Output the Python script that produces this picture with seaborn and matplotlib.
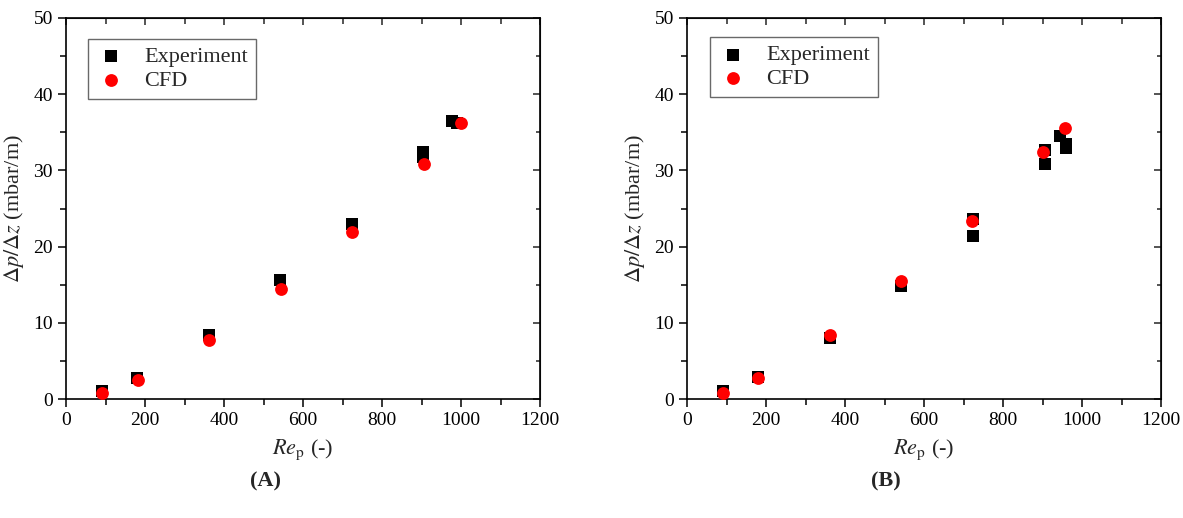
import matplotlib
matplotlib.use("Agg")
import matplotlib.pyplot as plt
import seaborn as sns
import pandas as pd
from matplotlib.ticker import MultipleLocator

# Datos panel A
exp_a_re = [90, 180, 362, 543, 723, 905, 905, 978, 990]
exp_a_dp = [1.0, 2.8, 8.4, 15.6, 23.0, 32.4, 31.8, 36.5, 36.2]
cfd_a_re = [91, 182, 363, 544, 724, 906, 1000]
cfd_a_dp = [0.8, 2.5, 7.7, 14.5, 21.9, 30.8, 36.2]

# Datos panel B
exp_b_re = [90, 180, 362, 543, 724, 724, 906, 906, 945, 960, 960]
exp_b_dp = [1.1, 2.9, 8.0, 14.8, 23.6, 21.4, 32.7, 30.8, 34.5, 33.5, 32.9]
cfd_b_re = [90, 181, 363, 542, 721, 901, 957]
cfd_b_dp = [0.8, 2.8, 8.4, 15.5, 23.3, 32.4, 35.6]

paneles = ["(A)", "(B)"]

sns.set_style("ticks")
plt.rcParams["font.family"] = ["Liberation Serif", "DejaVu Serif"]
plt.rcParams["mathtext.fontset"] = "stix"

W, H = 1183, 518
fig = plt.figure(figsize=(W / 100, H / 100), dpi=100)
ejes = [
    fig.add_axes([66 / W, 1 - 399 / H, 474 / W, 381 / H]),
    fig.add_axes([687 / W, 1 - 399 / H, 474 / W, 381 / H]),
]
datos = [
    (exp_a_re, exp_a_dp, cfd_a_re, cfd_a_dp),
    (exp_b_re, exp_b_dp, cfd_b_re, cfd_b_dp),
]
leg_pos = [(0.046, 0.945), (0.048, 0.95)]

for ax, (er, ed, cr, cd), etiqueta, lp in zip(ejes, datos, paneles, leg_pos):
    df_exp = pd.DataFrame({"re": er, "dp": ed})
    df_cfd = pd.DataFrame({"re": cr, "dp": cd})
    sns.scatterplot(data=df_exp, x="re", y="dp", marker="s", s=70, color="black",
                    edgecolor="black", linewidth=0, label="Experiment", ax=ax, zorder=3)
    sns.scatterplot(data=df_cfd, x="re", y="dp", marker="o", s=85, color="red",
                    edgecolor="red", linewidth=0, label="CFD", ax=ax, zorder=4)

    ax.set_xlim(0, 1200)
    ax.set_ylim(0, 50)
    ax.xaxis.set_major_locator(MultipleLocator(200))
    ax.xaxis.set_minor_locator(MultipleLocator(100))
    ax.yaxis.set_major_locator(MultipleLocator(10))
    ax.yaxis.set_minor_locator(MultipleLocator(5))
    ax.tick_params(which="both", direction="out", top=False, right=False,
                   labelsize=14, width=1.1, colors="black")
    ax.tick_params(which="major", length=6)
    ax.tick_params(which="minor", length=4)
    for sp in ax.spines.values():
        sp.set_visible(True)
        sp.set_linewidth(1.2)
        sp.set_color("black")

    # ticks espejo hacia dentro
    sec_x = ax.secondary_xaxis("top")
    sec_x.xaxis.set_major_locator(MultipleLocator(200))
    sec_x.xaxis.set_minor_locator(MultipleLocator(100))
    sec_x.tick_params(which="both", direction="in", labeltop=False, length=5, width=1.1)
    sec_x.tick_params(which="minor", length=4)
    sec_y = ax.secondary_yaxis("right")
    sec_y.yaxis.set_major_locator(MultipleLocator(10))
    sec_y.yaxis.set_minor_locator(MultipleLocator(5))
    sec_y.tick_params(which="both", direction="in", labelright=False, length=5, width=1.1)
    sec_y.tick_params(which="minor", length=3)

    ax.set_xlabel(r"$Re_{\mathrm{p}}$ (-)", fontsize=16, labelpad=6)
    ax.set_ylabel(r"$\Delta p/\Delta z$ (mbar/m)", fontsize=16, labelpad=5)

    leg = ax.legend(loc="upper left", bbox_to_anchor=lp, borderaxespad=0,
                    fancybox=False, edgecolor="#444444", fontsize=16,
                    handletextpad=0.8, borderpad=0.35, labelspacing=0.15,
                    handlelength=1.4, markerscale=1.0)
    leg.get_frame().set_linewidth(1.0)

    ax.text(0.42, -0.19, etiqueta, transform=ax.transAxes, ha="center", va="top",
            fontsize=16, fontweight="bold")

fig.savefig("out.png", dpi=100)
